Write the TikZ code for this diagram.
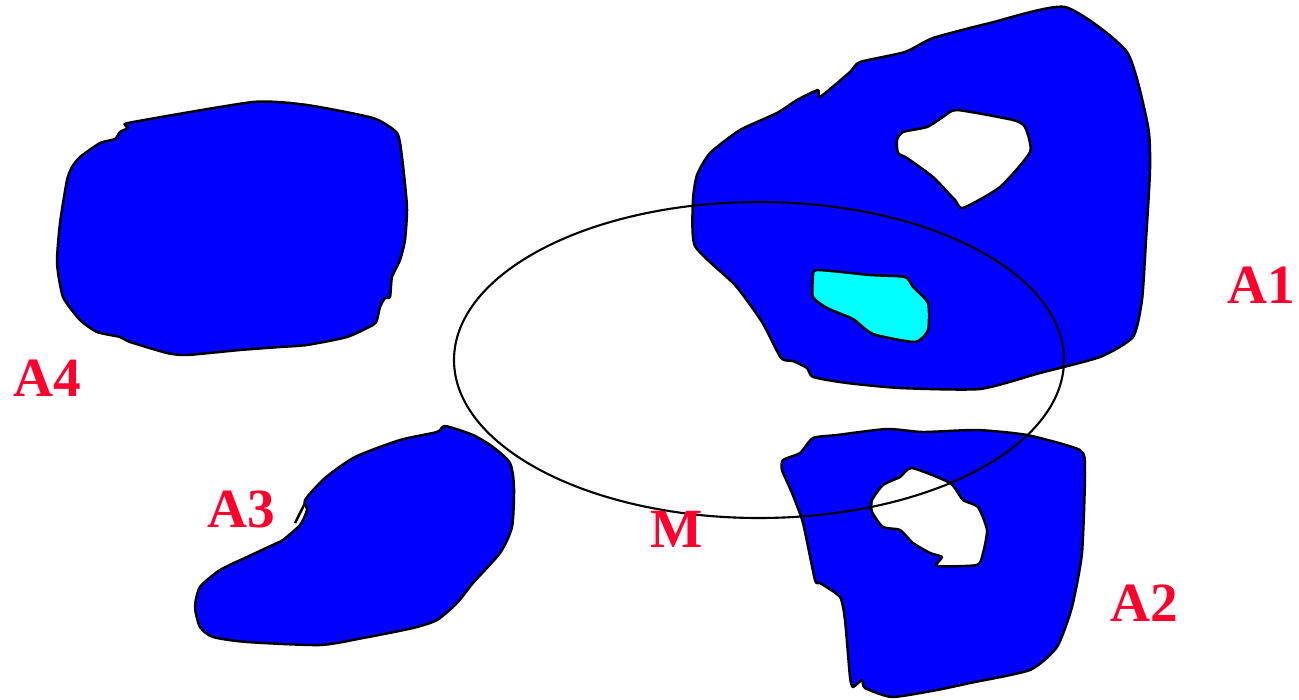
\documentclass[tikz,border=0pt]{standalone}
\usepackage{fontspec}
\setmainfont{Liberation Serif}
\definecolor{lblred}{RGB}{255,0,45}
\definecolor{blob}{RGB}{0,0,255}
\definecolor{cyanhole}{RGB}{0,255,255}
\begin{document}
\begin{tikzpicture}[x=0.02cm,y=-0.02cm,
  region/.style={fill=blob,draw=black,line width=1.4pt,line join=round},
  lbl/.style={text=lblred,font=\fontsize{31.5}{36}\selectfont\bfseries,anchor=base,inner sep=0pt}]
\useasboundingbox (0,0) rectangle (1299,700);
% A1 with white hole
\path[region,even odd rule]
  plot[smooth cycle,tension=0.35] coordinates {
  (1065,7) (1127,52) (1148,126) (1150,170) (1146,240) (1142,300) (1133,337)
  (1100,357) (1040,373) (980,389) (900,388) (847,383) (813,377) (807,368)
  (793,361) (781,358) (762,322) (735,285) (695,246) (693,200) (697,175)
  (710,153) (740,130) (777,113) (797,100) (818,90) (820,97) (850,72)
  (860,62) (905,52) (933,38) (990,23)}
  plot[smooth cycle,tension=0.35] coordinates {
  (957,110) (1013,120) (1025,127) (1030,152) (1000,187) (963,208) (955,200)
  (933,177) (907,158) (898,153) (897,140) (903,132) (927,127) (943,117)};
% cyan hole
\path[region,fill=cyanhole]
  plot[smooth cycle,tension=0.35] coordinates {
  (817,270) (870,275) (905,277) (913,287) (928,303) (928,330) (915,342)
  (873,334) (853,319) (827,308) (813,297) (813,278)};
% A2 with hole
\path[region,even odd rule]
  plot[smooth cycle,tension=0.35] coordinates {
  (783,460) (800,453) (813,438) (837,435) (887,429) (923,432) (977,430)
  (1027,435) (1080,450) (1085,470) (1082,553) (1072,607) (1057,647)
  (1030,670) (970,683) (937,690) (892,697) (865,688) (862,680) (853,687)
  (850,677) (845,620) (840,597) (820,583) (815,580) (803,523) (792,493)
  (782,470)}
  plot[smooth cycle,tension=0.35] coordinates {
  (912,468) (950,483) (963,500) (978,507) (987,530) (983,553) (977,565)
  (937,566) (942,557) (930,553) (913,543) (900,530) (883,527) (872,512)
  (872,500) (883,485) (900,477)};
% A3
\path[region]
  plot[smooth cycle,tension=0.4] coordinates {
  (445,426) (473,435) (493,447) (510,463) (514,487) (512,527) (500,553)
  (473,583) (457,603) (437,620) (413,628) (363,638) (320,645) (247,642)
  (213,637) (200,627) (195,607) (200,587) (220,570) (247,557) (277,543)
  (283,540) (300,525) (307,510) (305,500) (325,478) (355,457) (400,440)
  (437,432)};
\coordinate (sp1) at (305,503);
\coordinate (sp2) at (295,523);
\draw[line width=1.4pt] (sp1) -- (sp2);
% A4
\path[region]
  plot[smooth cycle,tension=0.35] coordinates {
  (253,102) (307,105) (373,118) (397,133) (402,157) (407,207) (405,240)
  (400,260) (392,277) (390,297) (385,298) (380,307) (377,320) (373,325)
  (347,337) (307,345) (280,347) (240,350) (187,355) (167,353) (130,342)
  (120,337) (97,332) (80,320) (63,297) (57,263) (60,223) (67,180) (72,167)
  (80,157) (100,143) (115,139) (120,132) (128,128) (125,125) (133,122)};
% ellipse M
\draw[line width=1.2pt] (759,360) ellipse [x radius=305, y radius=158];
% labels
\node[lbl] (A1) at (1261,303) {A1};
\node[lbl] (A2) at (1144,621) {A2};
\node[lbl] (A3) at (241,527) {A3};
\node[lbl] (A4) at (47,396) {A4};
\node[lbl] (M) at (677,547) {M};
\end{tikzpicture}
\end{document}
